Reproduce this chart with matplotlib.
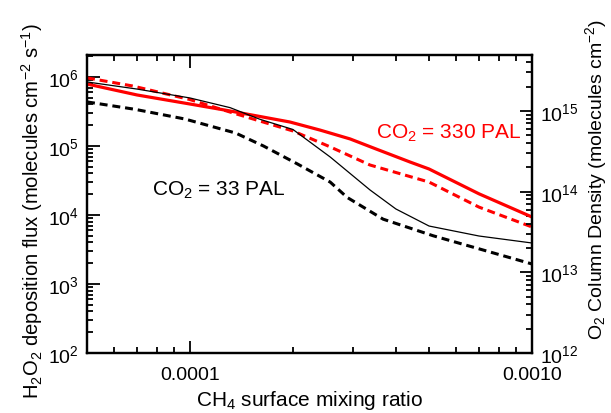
import numpy as np
import matplotlib
matplotlib.use('Agg')
import matplotlib.pyplot as plt
from matplotlib.ticker import LogLocator, FixedLocator, FixedFormatter, NullFormatter, LogFormatterMathtext

plt.rcParams['font.family'] = ['Liberation Sans', 'DejaVu Sans']
plt.rcParams['mathtext.default'] = 'regular'

# --- data ---
# H2O2 deposition flux (left axis), dashed lines
x_h2o2_330 = [5e-5, 6.8e-5, 1e-4, 1.31e-4, 1.6e-4, 2e-4, 2.57e-4, 3.36e-4, 5e-4, 7e-4, 1e-3]
h2o2_330 = [9.7e5, 7.4e5, 4.7e5, 3.1e5, 2.3e5, 1.65e5, 9.7e4, 5.3e4, 3.0e4, 1.3e4, 6.7e3]

x_h2o2_33 = [5e-5, 6.9e-5, 9.66e-5, 1.36e-4, 1.64e-4, 2.06e-4, 2.57e-4, 2.88e-4,
             3.67e-4, 5.14e-4, 7.05e-4, 1e-3]
h2o2_33 = [4.35e5, 3.4e5, 2.46e5, 1.54e5, 1.0e5, 5.5e4, 3.0e4, 1.8e4,
           8.7e3, 5.0e3, 3.2e3, 1.95e3]

# O2 column density (right axis), solid lines
x_o2_330 = [5e-5, 7e-5, 1e-4, 1.31e-4, 1.96e-4, 2.4e-4, 2.94e-4, 3.5e-4, 4.4e-4, 5e-4, 7e-4, 1e-3]
o2_330 = [2.16e15, 1.58e15, 1.22e15, 1.0e15, 7.3e14, 5.8e14, 4.5e14, 3.38e14, 2.33e14,
          1.91e14, 9.4e13, 4.85e13]

x_o2_33 = [5e-5, 7e-5, 1e-4, 1.31e-4, 1.6e-4, 2e-4, 2.57e-4, 3.36e-4, 4e-4, 5e-4, 7e-4, 1e-3]
o2_33 = [2.29e15, 1.87e15, 1.45e15, 1.1e15, 7.9e14, 5.9e14, 2.69e14, 1.05e14,
         6.1e13, 3.75e13, 2.82e13, 2.31e13]

xticks = [1e-4, 1e-3]
xticklabels = ['0.0001', '0.0010']

fig = plt.figure(figsize=(6.11, 4.14), dpi=100)
ax = fig.add_axes([0.1424, 0.1449, 0.7283, 0.7198])
ax2 = ax.twinx()

dash = (0, (2.6, 1.6))
ax.plot(x_h2o2_330, h2o2_330, color='#ff0000', lw=2.2, linestyle=dash)
ax.plot(x_h2o2_33, h2o2_33, color='black', lw=2.2, linestyle=dash)
ax2.plot(x_o2_330, o2_330, color='#ff0000', lw=2.3)
ax2.plot(x_o2_33, o2_33, color='black', lw=0.9)

ax.set_xscale('log')
ax.set_yscale('log')
ax2.set_yscale('log')
ax.set_xlim(5e-5, 1e-3)
ax.set_ylim(1e2, 2.08e6)
ax2.set_ylim(1e12, 4.94e15)

ax.xaxis.set_major_locator(FixedLocator(xticks))
ax.xaxis.set_major_formatter(FixedFormatter(xticklabels))
ax.xaxis.set_minor_locator(LogLocator(base=10, subs=np.arange(2, 10)))
ax.xaxis.set_minor_formatter(NullFormatter())

for a in (ax, ax2):
    a.yaxis.set_major_locator(LogLocator(base=10, numticks=20))
    a.yaxis.set_major_formatter(LogFormatterMathtext())
    a.yaxis.set_minor_locator(LogLocator(base=10, subs=np.arange(2, 10), numticks=20))
    a.yaxis.set_minor_formatter(NullFormatter())
    for s in a.spines.values():
        s.set_linewidth(1.6)

ax.tick_params(which='both', direction='in', top=True, right=False, labelsize=14, width=1.3)
ax.tick_params(which='major', length=9)
ax.tick_params(which='minor', length=4.5)
ax.tick_params(axis='x', pad=9)
ax.tick_params(axis='y', pad=6)
ax2.tick_params(which='both', direction='in', labelsize=14, width=1.3, pad=6)
ax2.tick_params(which='major', length=9)
ax2.tick_params(which='minor', length=4.5)

ax.set_xlabel('CH$_4$ surface mixing ratio', fontsize=15, labelpad=4)
ax.set_ylabel('H$_2$O$_2$ deposition flux (molecules cm$^{-2}$ s$^{-1}$)', fontsize=14.6, labelpad=2)
ax2.set_ylabel('O$_2$ Column Density (molecules cm$^{-2}$)', fontsize=14, labelpad=3)
ax.yaxis.label.set_y(0.48)
ax2.yaxis.label.set_y(0.585)

ax.text(0.145, 0.55, 'CO$_2$ = 33 PAL', transform=ax.transAxes, fontsize=15,
        color='black', ha='left', va='center')
ax.text(0.65, 0.742, 'CO$_2$ = 330 PAL', transform=ax.transAxes, fontsize=15,
        color='#ff0000', ha='left', va='center')

fig.savefig('out.png', dpi=100)
